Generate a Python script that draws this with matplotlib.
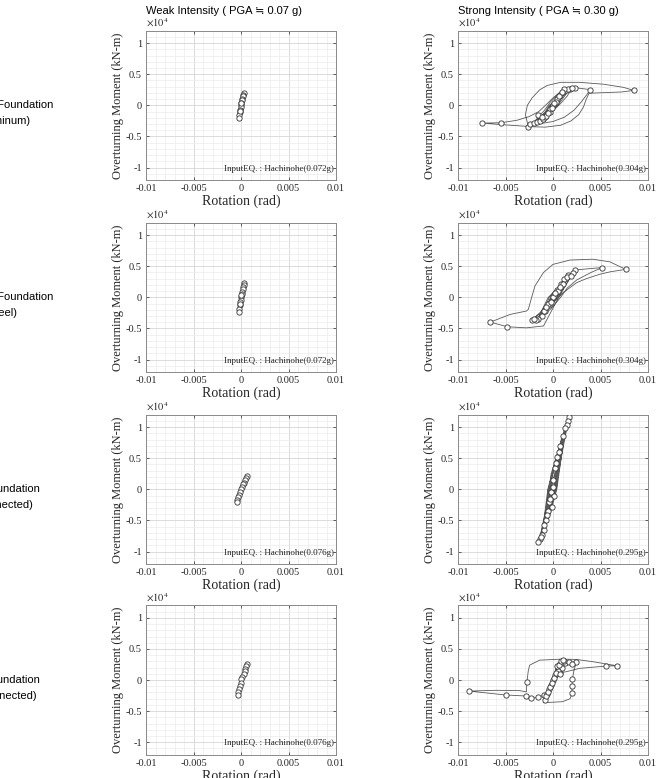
import matplotlib
matplotlib.use('Agg')
import matplotlib.pyplot as plt
from matplotlib.ticker import MultipleLocator, FixedLocator, FixedFormatter

plt.rcParams['axes.unicode_minus'] = False
plt.rcParams['mathtext.fontset'] = 'stix'

# rotation in mrad, moment in kN-m
# ---- weak intensity ----
weak_alu_rot = [0, 0.10, -0.08, 0.15, -0.12, 0.20, -0.18, 0.24, -0.22, 0.28, -0.25, 0.22, -0.15, 0.18, -0.05, 0.05, 0]
weak_alu_mom = [0, 800, -700, 1100, -1000, 1400, -1400, 1700, -1700, 1930, -2000, 1600, -1200, 1300, -400, 400, 0]
weak_alu_pk_rot = [0.28, 0.25, 0.20, 0.15, 0.10, 0.05, 0.0, -0.05, -0.10, -0.15, -0.20, -0.25, 0.02, -0.08]
weak_alu_pk_mom = [1930, 1700, 1450, 1100, 800, 450, 100, -300, -700, -1100, -1500, -2000, 300, -900]

weak_steel_rot = [0, 0.10, -0.08, 0.15, -0.12, 0.20, -0.18, 0.25, -0.22, 0.30, -0.25, 0.22, -0.15, 0.18, -0.05, 0.05, 0]
weak_steel_mom = [0, 800, -800, 1200, -1100, 1600, -1600, 1900, -1900, 2300, -2300, 1700, -1300, 1400, -400, 400, 0]
weak_steel_pk_rot = [0.30, 0.27, 0.22, 0.17, 0.12, 0.06, 0.0, -0.05, -0.10, -0.15, -0.20, -0.25, 0.03, -0.12]
weak_steel_pk_mom = [2300, 2050, 1700, 1300, 900, 500, 100, -400, -800, -1300, -1800, -2300, 300, -1000]

weak_con_rot = [0, 0.20, -0.10, 0.30, -0.20, 0.40, -0.30, 0.55, -0.40, 0.65, -0.45, 0.50, -0.30, 0.35, -0.10, 0.10, 0]
weak_con_mom = [0, 700, -600, 1000, -1000, 1400, -1400, 1800, -1700, 2100, -2100, 1600, -1300, 1200, -500, 400, 0]
weak_con_pk_rot = [0.65, 0.55, 0.45, 0.35, 0.25, 0.12, 0.0, -0.10, -0.20, -0.30, -0.40, -0.45]
weak_con_pk_mom = [2100, 1800, 1500, 1100, 800, 400, 0, -500, -900, -1300, -1700, -2100]

weak_unc_rot = [0, 0.20, -0.08, 0.30, -0.15, 0.40, -0.22, 0.50, -0.30, 0.60, -0.35, 0.45, -0.20, 0.30, -0.05, 0.10, 0]
weak_unc_mom = [0, 800, -700, 1200, -1100, 1600, -1500, 2000, -1900, 2500, -2400, 1800, -1300, 1300, -500, 400, 0]
weak_unc_pk_rot = [0.60, 0.52, 0.45, 0.37, 0.28, 0.15, 0.05, -0.05, -0.12, -0.20, -0.28, -0.35]
weak_unc_pk_mom = [2500, 2200, 1800, 1400, 1000, 500, 100, -400, -900, -1400, -1900, -2400]

# ---- strong intensity ----
strong_alu_rot = [0, 0.4, 0.1, -0.35, -0.05, 0.7, 0.2, -0.7, -0.2, 1.0, 0.3, -1.0, -0.3, 1.4, 0.4, -1.4, -0.4,
                  1.8, 0.5, -1.8, -2.6, -2.9, -2.7, -2.2, -1.4, -0.6, 0.8, 2.8, 5.3, 7.4, 8.5,
                  7.2, 5.5, 3.8, 3.5, 3.2, 2.7, 1.9, 0.8, -0.8, -2.0, -4.5, -7.5,
                  -5.5, -3.8, -2.5, -1.5, -0.8, 0, 0.8, 1.6, 2.3, 3.9,
                  3.6, 3.0, 2.2, 1.2, 0, -1.2, -2.2, -1.6, -0.9, -0.3, 0.5, 1.2, 2.0,
                  1.5, 0.8, 0, -0.8, -1.5, -0.8, 0, 0.9, 1.4, 0.6, -0.2, -1.0, -0.3, 0.5,
                  1.7, 0.9, -0.1, -1.1, -2.0, -1.2, -0.2, 0.8, 1.9, 1.1, 0.2, -0.7, -1.7, -0.6, 0.4, 0]
strong_alu_mom = [0, 1100, 0, -1000, 0, 1700, 0, -1700, 0, 2200, 0, -2200, 0, 2500, 0, -2500, 0,
                  2700, 0, -2700, -3400, -1500, 0, 1200, 2500, 3200, 3700, 3700, 3400, 2900, 2400,
                  2150, 2050, 1950, 1000, -300, -1500, -2500, -3200, -3500, -3450, -3200, -2850,
                  -2800, -2400, -1800, -1000, 0, 1200, 2200, 2700, 2850, 2530,
                  1800, 600, -800, -1900, -2600, -2900, -3000, -2000, -800, 500, 1700, 2400, 2800,
                  1500, 300, -900, -1900, -2600, -1200, 300, 1800, 2300, 600, -800, -2000, -500, 800,
                  2600, 1400, -200, -1600, -2700, -1700, -200, 1400, 2700, 1600, 100, -1300, -2500, -900, 700, 0]
strong_alu_pk_rot = [-7.5, -5.5, -2.6, -2.4, -2.0, -1.7, -1.4, -1.1, -0.8, -1.55, 0, 0.4, -0.35,
                     0.7, -0.7, 1.0, 1.4, 1.8, 2.3, 3.9, 8.5, 1.6, 0.3, -0.3, 2.0,
                     -0.5, 0.1, 0.6, 1.2, -1.2, -0.1, 0.9]
strong_alu_pk_mom = [-2850, -2850, -3400, -3000, -2900, -2600, -2500, -2200, -1900, -1560, 0, 1000, -1000,
                     1700, -1700, 2200, 2500, 2700, 2850, 2530, 2400, 2700, 600, -600, 2800,
                     -1200, 300, 1500, 2600, -1800, -400, 2100]

strong_steel_rot = [0, 0.4, 0.1, -0.4, -0.1, 0.8, 0.25, -0.8, -0.25, 1.2, 0.4, -1.2, -0.4, 1.6, 0.5, -1.6, -0.5, 2.1,
                    0.6, -1.0, -2.8, -4.8, -6.6, -4.5, -2.8, -2.6, -2.3, -1.9, -1.0, 0, 1.8, 4.2, 6.0, 7.65,
                    6.0, 4.9, 3.5, 2.5, 1.1, 0, -1.0, -2.0, -2.2,
                    -1.2, -0.2, 1.0, 2.3, 5.2, 4.0, 2.5, 1.5, 0.8, -0.2, -1.2, -1.8,
                    -0.8, 0.4, 1.5, 2.1, 1.0, 0, -1.4, -0.4, 0.6,
                    1.8, 0.7, -0.5, -1.7, -0.6, 0.5, 1.4, 0.3, -0.9, -0.1, 0]
strong_steel_mom = [0, 1200, 0, -1200, 0, 2200, 0, -2200, 0, 3000, 0, -3000, 0, 3600, 0, -3400, 0, 3900,
                    0, -4600, -4900, -4730, -3980, -2740, -2200, -1940, -300, 1830, 4000, 5300, 6000, 6130, 5700, 4500,
                    4100, 3700, 3000, 2370, 800, -900, -2200, -3300, -3660,
                    -2200, -200, 2200, 4400, 4790, 4000, 2800, 1500, 0, -1800, -3200, -3700,
                    -2000, 800, 3200, 3870, 1200, -1000, -3400, -600, 1500,
                    3500, 1300, -1400, -3500, -1400, 1200, 3000, 300, -2300, -300, 0]
strong_steel_pk_rot = [7.65, 5.2, 2.3, 2.1, -6.6, -4.8, -2.2, 0, 0.4, -0.4, 0.8, -0.8, 1.2, -1.2,
                       1.6, -1.6, 1.0, -1.0, 0.5, -0.5, 1.5, -1.8, 0.2, -0.2, 0.7, -0.7, 1.9, -2.0]
strong_steel_pk_mom = [4500, 4790, 4400, 3870, -3980, -4730, -3660, 0, 1200, -1200, 2200, -2200, 3000, -3000,
                       3600, -3400, 2200, -2200, 1000, -1000, 3200, -3700, 700, -700, 1600, -1600, 3500, -3500]

strong_con_rot = [0, 0.35, 0.05, -0.5, -0.35, 0.55, 0.1, -0.65, -0.45, 0.45, 0.15, -0.85, -0.5, 0.75, 0.25,
                  -1.1, -0.55, 1.0, 0.35, -1.4, -0.6, -0.2, 1.3, 0.4, -0.3, -1.55, -0.9, -0.45, 0.3, 1.7,
                  1.1, 0.5, -0.2, -1.0, -1.3, -0.6, -0.1, 0.9, 1.5, 0.8, 0.2, -0.6, -1.2, -0.4, 0.3, 1.4,
                  0.6, -0.3, -0.9, -0.2]
strong_con_mom = [0, 2200, 0, -2500, 0, 3600, 0, -4000, 0, 5200, 0, -5500, 0, 7000, 0,
                  -6800, 0, 8500, 0, -8000, -2000, 2500, 9800, 0, -4000, -8500, -5000, 0, 5000, 11700,
                  7000, 2000, -3000, -7000, -7800, -3000, 2000, 8200, 10800, 5500, 0, -5000, -7400, -1500, 3500, 10200,
                  3000, -2500, -6500, 0]
strong_con_pk_rot = [1.7, 1.6, 1.45, 1.3, 1.0, 0.7, 0.45, 0.2, 0, -0.2, -0.4, -0.5, -0.7, -1.0, -1.2,
                     -1.4, -1.55, -1.3, 0.1, 0.0, -0.3, 0.6, 0.3, -0.1, -0.6, -0.9]
strong_con_pk_mom = [11700, 11000, 10300, 9800, 8500, 7000, 5200, 3500, 1500, -500, -2000, -3500, -5000, -6500, -7400,
                     -8000, -8500, -7700, -1000, 300, -1500, 6000, 4200, -2800, -4200, -5800]

strong_unc_rot = [0, 0.2, -0.05, -0.25, 0.05, 0.35, -0.05, -0.45, 0.05, 0.55, 0, -0.65, 0.1, 0.8, 1.5, 2.5, 4.2, 6.7,
                  5.6, 2.8, 1.4, 0.7, 0.3, -0.3, -0.9, -1.6, -2.3, -2.8, -5.0, -8.84, -6.0, -3.5, -2.8, -2.75,
                  -2.6, -2.45, -1.4, 0.7, 1.3, 2.46, 2.2, 2.05, 2.0, 2.0, 1.8, 1.0, -1.0, -0.5, 0, 0.6, 0.9,
                  0.3, -0.3, -0.8, -0.2, 0.4, 0.8, 0.2, -0.4, -0.9, -0.3, 0.3, 0.7, 0]
strong_unc_mom = [0, 1200, 0, -1200, 0, 2000, 0, -2000, 0, 2800, 0, -2800, 0, 3300, 3350, 3300, 2950, 2300,
                  2250, 1880, 1340, 1170, 0, -2000, -2400, -2780, -2940, -2570, -2400, -1770, -1650, -1700, -1900, -370,
                  1500, 2400, 3200, 3350, 2800, 2940, 1500, 200, -1000, -2140, -3000, -3480, -3640, -1500, 500, 2600, 3200,
                  500, -1800, -3200, -500, 1800, 3000, 200, -1700, -3400, -1000, 1200, 2900, 0]
strong_unc_pk_rot = [-8.84, -5.0, -2.8, -2.3, -1.6, -0.9, -2.75, 0.7, 1.3, 2.46, 5.6, 6.7, 2.05, 2.0, 2.0,
                     1.2, 0.9, 0.5, 0.2, 0, -0.2, -0.4, -0.6, 1.7, 2.0, 0.4,
                     -0.8, -0.7, -0.5, -0.3, -0.1, 0.1, 0.3, 0.6, 0.8, 1.0, 0.75]
strong_unc_pk_mom = [-1770, -2400, -2570, -2940, -2780, -2400, -370, 1170, 2800, 2940, 2250, 2300, 200, -1000, -2140,
                     3000, 2000, 1500, 800, 0, -800, -1500, -2200, 2900, 2600, 2200,
                     -3200, -2600, -1900, -1100, -400, 400, 1200, 2400, 3000, 3300, 1000]

row_names = [("Shallow Foundation", "(Aluminum)"),
             ("Shallow Foundation", "(Steel)"),
             ("Pile Foundation", "(Connected)"),
             ("Pile Foundation", "(Unconnected)")]
weak_eq = ["0.072g", "0.072g", "0.076g", "0.076g"]
strong_eq = ["0.304g", "0.304g", "0.295g", "0.295g"]

weak_sets = [(weak_alu_rot, weak_alu_mom, weak_alu_pk_rot, weak_alu_pk_mom),
             (weak_steel_rot, weak_steel_mom, weak_steel_pk_rot, weak_steel_pk_mom),
             (weak_con_rot, weak_con_mom, weak_con_pk_rot, weak_con_pk_mom),
             (weak_unc_rot, weak_unc_mom, weak_unc_pk_rot, weak_unc_pk_mom)]
strong_sets = [(strong_alu_rot, strong_alu_mom, strong_alu_pk_rot, strong_alu_pk_mom),
               (strong_steel_rot, strong_steel_mom, strong_steel_pk_rot, strong_steel_pk_mom),
               (strong_con_rot, strong_con_mom, strong_con_pk_rot, strong_con_pk_mom),
               (strong_unc_rot, strong_unc_mom, strong_unc_pk_rot, strong_unc_pk_mom)]

SERIF = ['Liberation Serif', 'DejaVu Serif']
SANS = ['Liberation Sans', 'DejaVu Sans']
TXT = '#262626'


def draw_panel(ax, data, eq):
    rot, mom, pk_rot, pk_mom = data
    x = [r / 1000 for r in rot]
    y = [m / 1e4 for m in mom]
    px = [r / 1000 for r in pk_rot]
    py = [m / 1e4 for m in pk_mom]
    ax.plot(x, y, color='#5a5a5a', lw=0.6, zorder=3)
    ax.plot(px, py, 'o', ms=3.8, mfc='white', mec='#333333', mew=0.6, zorder=4)

    ax.set_xlim(-0.01, 0.01)
    ax.set_ylim(-1.2, 1.2)
    ax.xaxis.set_major_locator(FixedLocator([-0.01, -0.005, 0, 0.005, 0.01]))
    ax.xaxis.set_major_formatter(FixedFormatter(['-0.01', '-0.005', '0', '0.005', '0.01']))
    ax.yaxis.set_major_locator(FixedLocator([-1, -0.5, 0, 0.5, 1]))
    ax.yaxis.set_major_formatter(FixedFormatter(['-1', '-0.5', '0', '0.5', '1']))
    ax.xaxis.set_minor_locator(MultipleLocator(0.001))
    ax.yaxis.set_minor_locator(MultipleLocator(0.1))
    ax.grid(which='major', color='#d6d6d6', lw=0.6)
    ax.grid(which='minor', color='#ebebeb', lw=0.5)
    ax.set_axisbelow(True)
    ax.tick_params(which='major', direction='in', length=2.5, width=0.5, top=True, right=True,
                   colors=TXT, labelsize=7.5, pad=3)
    ax.tick_params(which='minor', length=0)
    for lab in ax.get_xticklabels() + ax.get_yticklabels():
        lab.set_family(SERIF)
    for sp in ax.spines.values():
        sp.set_color('#8a8a8a')
        sp.set_linewidth(0.7)
    ax.set_xlabel('Rotation (rad)', family=SERIF, fontsize=10, color=TXT, labelpad=1)
    ax.set_ylabel('Overturning Moment (kN-m)', family=SERIF, fontsize=9, color=TXT, labelpad=1)
    ax.text(0.0, 1.01, r'$\times10^4$', transform=ax.transAxes, ha='left', va='bottom',
            fontsize=7.5, color=TXT)
    ax.text(0.99, 0.05, 'InputEQ. : Hachinohe(' + eq + ')', transform=ax.transAxes,
            ha='right', va='bottom', family=SERIF, fontsize=6.5, color=TXT)


fig = plt.figure(figsize=(6.58, 7.78), dpi=100)
W, H = 658, 778
row_top = [30.7, 222.7, 414.7, 605.4]
ax_h = 149.3
col_left = [146, 458]
ax_w = 190

for i in range(4):
    b = 1 - (row_top[i] + ax_h) / H
    axl = fig.add_axes([col_left[0] / W, b, ax_w / W, ax_h / H])
    axr = fig.add_axes([col_left[1] / W, b, ax_w / W, ax_h / H])
    draw_panel(axl, weak_sets[i], weak_eq[i])
    draw_panel(axr, strong_sets[i], strong_eq[i])
    yc = row_top[i] + ax_h / 2
    end1 = 53 if i < 2 else 40
    fig.text(end1 / W, 1 - yc / H, row_names[i][0], ha='right', va='center',
             family=SANS, fontsize=8, color='black')
    end2 = [30, 17, 33, 37][i]
    fig.text(end2 / W, 1 - (yc + 16) / H, row_names[i][1], ha='right', va='center',
             family=SANS, fontsize=8, color='black')
    if i == 0:
        axl.set_title('Weak Intensity ( PGA \u2252 0.07 g)', loc='left', family=SANS,
                      fontsize=8, color='black', pad=12)
        axr.set_title('Strong Intensity ( PGA \u2252 0.30 g)', loc='left', family=SANS,
                      fontsize=8, color='black', pad=12)

fig.savefig('out.png', dpi=100)
